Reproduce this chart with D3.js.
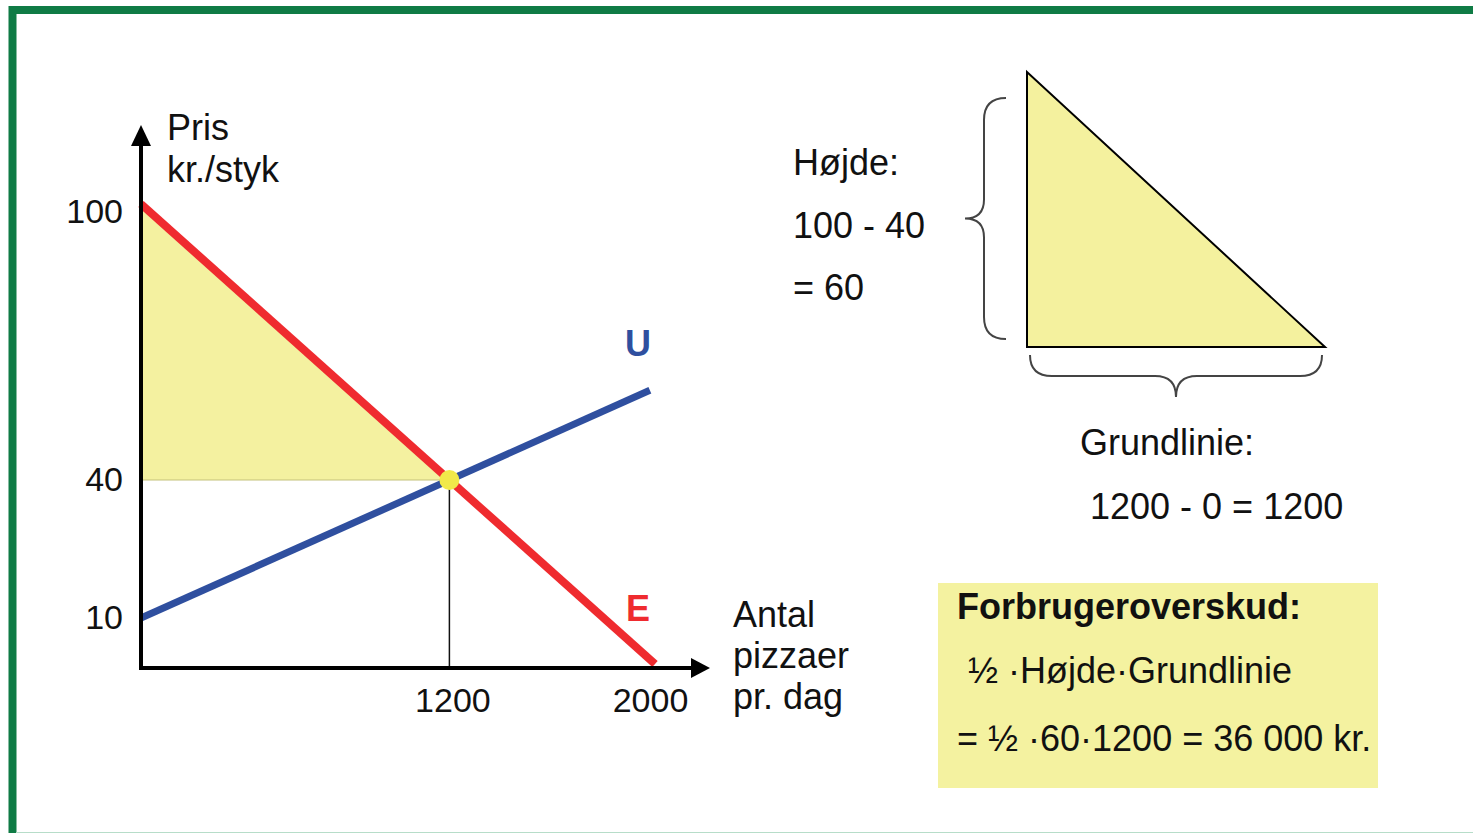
<!DOCTYPE html>
<html>
<head>
<meta charset="utf-8">
<script src="https://cdn.jsdelivr.net/npm/d3@7"></script>
<style>
  html, body { margin: 0; padding: 0; background: #fff; }
  svg { display: block; font-family: "Liberation Sans", Arial, sans-serif; }
</style>
</head>
<body>
<svg id="chart" width="1473" height="833"></svg>
<script>
// ---- data ----
const demand = [[0, 100], [2000, 0]];          // E
const supply = [[0, 10], [1980, 59.5]];        // U
const equilibrium = [1200, 40];
const yTicks = [10, 40, 100];
const xTicks = [1200, 2000];
const surplusArea = [[0, 100], [0, 40], [1200, 40]];
const triangleData = [[0, 60], [0, 0], [1200, 0]];
const yAxisLabel = ["Pris", "kr./styk"];
const xAxisLabel = ["Antal", "pizzaer", "pr. dag"];
const heightText = ["Højde:", "100 - 40", "= 60"];
const baseText = ["Grundlinie:", "1200 - 0 = 1200"];
const boxText = ["Forbrugeroverskud:", "½ ·Højde·Grundlinie", "= ½ ·60·1200 = 36 000 kr."];

const svg = d3.select("#chart");
const FONT = 36;

// ---- frame ----
svg.append("rect").attr("x", 12.5).attr("y", 10).attr("width", 1500).attr("height", 900)
  .attr("fill", "none").attr("stroke", "#0f7b45").attr("stroke-width", 8);
svg.append("line").attr("x1", 16).attr("x2", 1473).attr("y1", 832.5).attr("y2", 832.5)
  .attr("stroke", "#b7ddc9").attr("stroke-width", 1);

// ---- scales ----
const x = d3.scaleLinear().domain([0, 2000]).range([141, 655]);
const y = d3.scaleLinear().domain([0, 100]).range([664, 204]);
const axisY = 668;
const line = d3.line().x(d => x(d[0])).y(d => y(d[1]));

// surplus fill
svg.append("path").datum(surplusArea).attr("d", line.curve(d3.curveLinearClosed))
  .attr("fill", "#f4f1a0").attr("stroke", "none");
line.curve(d3.curveLinear);
// price line at 40
svg.append("line").attr("x1", x(0)).attr("x2", x(equilibrium[0]))
  .attr("y1", y(equilibrium[1])).attr("y2", y(equilibrium[1]))
  .attr("stroke", "#c4c27a").attr("stroke-width", 1.2);
// vertical drop
svg.append("line").attr("x1", x(equilibrium[0])).attr("x2", x(equilibrium[0]))
  .attr("y1", y(equilibrium[1])).attr("y2", axisY)
  .attr("stroke", "#111").attr("stroke-width", 1.5);

// curves
svg.append("path").datum(supply).attr("d", line)
  .attr("stroke", "#2f4f9f").attr("stroke-width", 7).attr("fill", "none");
svg.append("path").datum(demand).attr("d", line)
  .attr("stroke", "#ef2b2f").attr("stroke-width", 8).attr("fill", "none");

// equilibrium dot
svg.append("circle").attr("cx", x(equilibrium[0])).attr("cy", y(equilibrium[1])).attr("r", 10)
  .attr("fill", "#f1e94a");

// axes lines + arrows
svg.append("line").attr("x1", x(0)).attr("x2", x(0)).attr("y1", axisY + 2).attr("y2", 142)
  .attr("stroke", "#000").attr("stroke-width", 4);
svg.append("path").attr("d", `M${x(0)},125 L${x(0) + 10},146 L${x(0) - 10},146 Z`).attr("fill", "#000");
svg.append("line").attr("x1", x(0) - 2).attr("x2", 695).attr("y1", axisY).attr("y2", axisY)
  .attr("stroke", "#000").attr("stroke-width", 4);
svg.append("path").attr("d", `M710,${axisY} L691,${axisY - 10} L691,${axisY + 10} Z`).attr("fill", "#000");

// tick labels via d3 axes
const gy = svg.append("g").attr("transform", `translate(${x(0)},0)`)
  .call(d3.axisLeft(y).tickValues(yTicks).tickSize(0).tickPadding(18).tickFormat(d3.format("d")));
gy.select(".domain").remove();
gy.selectAll("text").attr("font-size", 34).attr("font-family", "Liberation Sans, Arial, sans-serif").attr("fill", "#111");
gy.selectAll(".tick").filter(d => d === 100).select("text").attr("dy", "0.55em");

const gx = svg.append("g").attr("transform", `translate(0,${axisY})`)
  .call(d3.axisBottom(x).tickValues(xTicks).tickSize(0).tickPadding(20).tickFormat(d3.format("d")));
gx.select(".domain").remove();
gx.selectAll("text").attr("font-size", 34).attr("font-family", "Liberation Sans, Arial, sans-serif").attr("fill", "#111")
  .attr("dx", d => d === 1200 ? 3 : -5);

// axis titles
const txt = (tx, ty, s, opts = {}) => svg.append("text").attr("x", tx).attr("y", ty)
  .attr("font-size", opts.size || FONT).attr("font-weight", opts.weight || "normal")
  .attr("fill", opts.fill || "#111").attr("text-anchor", opts.anchor || "start").text(s);

yAxisLabel.forEach((s, i) => txt(167, 140 + i * 42, s));
xAxisLabel.forEach((s, i) => txt(733, 627 + i * 41, s));

// curve labels
txt(638, 356, "U", { weight: "bold", fill: "#2f4f9f", anchor: "middle" });
txt(638, 621, "E", { weight: "bold", fill: "#ef2b2f", anchor: "middle" });

// ---- right side triangle ----
const tx = d3.scaleLinear().domain([0, 1200]).range([1027, 1325]);
const ty = d3.scaleLinear().domain([0, 60]).range([347, 72]);
const tline = d3.line().x(d => tx(d[0])).y(d => ty(d[1])).curve(d3.curveLinearClosed);
svg.append("path").datum(triangleData).attr("d", tline)
  .attr("fill", "#f4f19e").attr("stroke", "#000").attr("stroke-width", 2).attr("stroke-linejoin", "miter");

// braces
const bx = tx(0) - 21, by0 = ty(60) + 26, by1 = ty(0) - 8, bm = (by0 + by1) / 2;
const sx = bx - 22, tipx = bx - 41;
svg.append("path").attr("d",
  `M${bx},${by0} Q${sx},${by0} ${sx},${by0 + 22} L${sx},${bm - 19} Q${sx},${bm} ${tipx},${bm} ` +
  `Q${sx},${bm} ${sx},${bm + 19} L${sx},${by1 - 22} Q${sx},${by1} ${bx},${by1}`)
  .attr("fill", "none").attr("stroke", "#444").attr("stroke-width", 2);

const hx0 = tx(0) + 3, hx1 = tx(1200) - 3, hy = ty(0) + 8, hm = (hx0 + hx1) / 2;
const hs = hy + 21, htip = hy + 42;
svg.append("path").attr("d",
  `M${hx0},${hy} Q${hx0},${hs} ${hx0 + 22},${hs} L${hm - 21},${hs} Q${hm},${hs} ${hm},${htip} ` +
  `Q${hm},${hs} ${hm + 21},${hs} L${hx1 - 22},${hs} Q${hx1},${hs} ${hx1},${hy}`)
  .attr("fill", "none").attr("stroke", "#444").attr("stroke-width", 2);

heightText.forEach((s, i) => txt(793, 175 + i * 62.5, s));
txt(1080, 455, baseText[0]);
txt(1090, 519, baseText[1]);

// ---- box ----
svg.append("rect").attr("x", 938).attr("y", 583).attr("width", 440).attr("height", 205).attr("fill", "#f4f2a0");
txt(957, 619, boxText[0], { weight: "bold" });
txt(968, 683, boxText[1]);
txt(957, 751, boxText[2]);
</script>
</body>
</html>
